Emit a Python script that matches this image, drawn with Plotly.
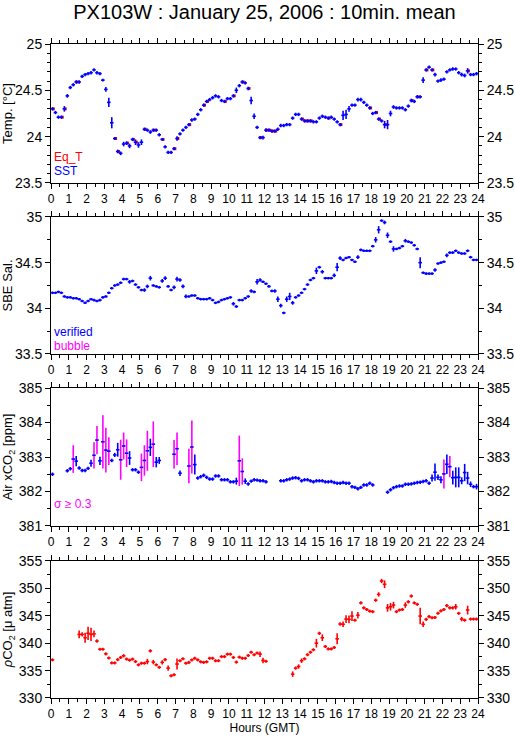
import plotly.graph_objects as go

# ---------------- data (10-minute means, index i -> hour (i+0.5)/6) ----------------
n_slots = 144
hours_ticks = list(range(0, 25))

sst = [
    24.30, 24.26, 24.21, 24.21, 24.30, 24.44, 24.53, 24.56, 24.59, 24.59,
    24.65, 24.67, 24.68, 24.69, 24.72, 24.69, 24.68, 24.61, 24.51, 24.37,
    24.15, 23.98, 23.84, 23.82, 23.92, 23.93, 23.90, 23.97, 23.94, 23.91,
    23.94, 24.08, 24.07, 24.05, 24.07, 24.07, 24.02, 23.97, 23.89, 23.83,
    23.83, 23.87, 23.98, 24.03, 24.07, 24.10, 24.13, 24.18, 24.19, 24.24,
    24.29, 24.34, 24.38, 24.40, 24.42, 24.44, 24.43, 24.39, 24.38, 24.41,
    24.41, 24.44, 24.50, 24.55, 24.59, 24.58, 24.52, 24.39, 24.22, 24.10,
    23.99, 23.99, 24.07, 24.07, 24.06, 24.06, 24.08, 24.12, 24.12, 24.13,
    24.13, 24.20, 24.24, 24.24, 24.19, 24.17, 24.17, 24.17, 24.16, 24.16,
    24.20, 24.22, 24.21, 24.20, 24.21, 24.19, 24.16, 24.13, 24.23, 24.24,
    24.30, 24.34, 24.34, 24.40, 24.40, 24.37, 24.34, 24.31, 24.25, 24.26,
    24.19, 24.17, 24.13, 24.13, 24.25, 24.32, 24.31, 24.31, 24.31, 24.29,
    24.33, 24.39, 24.38, 24.43, 24.43, 24.61, 24.72, 24.75, 24.72, 24.67,
    24.60, 24.61, 24.62, 24.70, 24.72, 24.73, 24.73, 24.69, 24.67, 24.66,
    24.71, 24.67, 24.67, 24.68]
sst_sd_default = 0.018
sst_sd = {4: 0.03, 5: 0.02, 17: 0.015, 18: 0.025, 19: 0.05, 20: 0.06, 21: 0.015,
          22: 0.02, 23: 0.02, 24: 0.025, 25: 0.02, 26: 0.025, 28: 0.03, 29: 0.03,
          30: 0.03, 33: 0.02, 37: 0.015, 42: 0.025, 62: 0.03, 67: 0.04, 68: 0.03,
          71: 0.02, 72: 0.02, 98: 0.05, 99: 0.05, 100: 0.03, 103: 0.02, 104: 0.02,
          112: 0.04, 113: 0.05, 114: 0.03, 115: 0.02, 121: 0.02, 125: 0.03,
          129: 0.02, 131: 0.02, 138: 0.02, 139: 0.02, 140: 0.03}

eqt_slot = [0, 3, 4, 8, 21, 22, 25, 27, 28, 31, 34, 37, 41, 42, 46, 51, 52, 58, 61,
            64, 66, 70, 72, 73, 74, 75, 84, 85, 86, 87, 93, 97, 107, 109, 110, 112,
            121, 123, 126, 128, 140]
eqt_val = [24.30, 24.21, 24.30, 24.59, 23.98, 23.84, 23.93, 23.97, 23.94, 24.08,
           24.07, 23.97, 23.87, 23.98, 24.13, 24.34, 24.38, 24.38, 24.44, 24.59,
           24.52, 23.99, 24.07, 24.07, 24.06, 24.06, 24.19, 24.17, 24.17, 24.17,
           24.20, 24.13, 24.31, 24.26, 24.19, 24.13, 24.39, 24.43, 24.72, 24.72,
           24.71]

sal = [
    34.17, 34.17, 34.18, 34.17, 34.13, 34.12, 34.12, 34.11, 34.11, 34.10,
    34.08, 34.06, 34.08, 34.10, 34.09, 34.08, 34.09, 34.12, 34.13, 34.17,
    34.22, 34.25, 34.26, 34.28, 34.32, 34.32, 34.29, 34.30, 34.26, 34.23,
    34.20, 34.20, 34.24, 34.33, 34.25, 34.24, 34.23, 34.30, 34.33, 34.24,
    34.20, 34.23, 34.32, 34.31, 34.24, 34.13, 34.13, 34.14, 34.14, 34.11,
    34.10, 34.10, 34.10, 34.11, 34.09, 34.06, 34.07, 34.09, 34.10, 34.11,
    34.12, 34.05, 34.02, 34.09, 34.09, 34.11, 34.13, 34.19, 34.18, 34.29,
    34.31, 34.29, 34.27, 34.24, 34.19, 34.19, 34.10, 34.03, 33.95, 34.10,
    34.13, 34.06, 34.12, 34.14, 34.17, 34.21, 34.26, 34.31, 34.33, 34.41,
    34.45, 34.40, 34.33, 34.33, 34.33, 34.36, 34.45, 34.55, 34.53, 34.55,
    34.56, 34.53, 34.51, 34.56, 34.64, 34.63, 34.63, 34.63, 34.68, 34.75,
    34.86, 34.96, 34.94, 34.80, 34.73, 34.65, 34.65, 34.66, 34.68, 34.74,
    34.73, 34.72, 34.69, 34.65, 34.50, 34.39, 34.38, 34.38, 34.38, 34.42,
    34.49, 34.50, 34.51, 34.58, 34.61, 34.61, 34.63, 34.61, 34.60, 34.60,
    34.63, 34.56, 34.53, 34.53]
sal_sd_default = 0.014
sal_sd = {24: 0.015, 26: 0.02, 31: 0.02, 32: 0.02, 33: 0.025, 37: 0.02, 38: 0.02,
          41: 0.02, 42: 0.025, 43: 0.02, 44: 0.02, 45: 0.02, 61: 0.02, 62: 0.015,
          67: 0.02, 69: 0.03, 70: 0.02, 74: 0.015, 75: 0.02, 76: 0.03, 77: 0.02,
          79: 0.03, 80: 0.04, 81: 0.02, 89: 0.035, 90: 0.015, 91: 0.02, 95: 0.02,
          96: 0.045, 97: 0.02, 103: 0.02, 109: 0.03, 110: 0.04, 112: 0.02,
          113: 0.03, 115: 0.03, 119: 0.02, 124: 0.06, 129: 0.02, 133: 0.02,
          140: 0.015}

N = None
xco2 = [
    382.50, N, N, N, N, 382.60, 382.66, 382.94, 382.88, 382.68,
    382.61, 382.61, 382.67, 382.82, 383.05, 383.49, 382.89, 383.44, 383.20, 383.17,
    382.90, 383.06, 383.21, 382.92, 383.32, 383.11, 382.97, 382.63, 382.63, 382.56,
    382.70, 382.90, 383.18, 383.28, 383.37, 382.85, 382.90, N, N, N,
    N, 383.08, 383.24, 382.53, N, N, 382.74, 383.29, 382.78, 382.39,
    382.43, 382.47, 382.41, 382.36, 382.36, 382.45, 382.45, 382.34, 382.34, 382.34,
    382.28, 382.28, 382.30, 382.89, 382.58, 382.30, 382.22, 382.30, 382.34, 382.33,
    382.31, 382.31, 382.28, N, N, N, N, 382.31, 382.31, 382.34,
    382.36, 382.39, 382.40, 382.38, 382.31, 382.34, 382.34, 382.31, 382.28, 382.31,
    382.31, 382.31, 382.28, 382.28, 382.29, 382.26, 382.24, 382.24, 382.26, 382.24,
    382.24, 382.14, 382.12, 382.08, 382.12, 382.19, 382.19, 382.24, 382.19, N,
    N, N, N, 381.98, 382.05, 382.11, 382.14, 382.16, 382.16, 382.21,
    382.21, 382.22, 382.24, 382.26, 382.27, 382.29, 382.31, 382.24, 382.39, 382.56,
    382.41, 382.34, 382.51, 382.79, 382.72, 382.40, 382.41, 382.41, 382.31, 382.55,
    382.39, 382.21, 382.14, 382.14]
xco2_sd_default = 0.05
xco2_sd = {7: 0.40, 8: 0.15, 13: 0.10, 14: 0.38, 15: 0.41, 16: 0.12, 17: 0.77,
           18: 0.65, 19: 0.40, 20: 0.05, 21: 0.06, 22: 0.20, 23: 0.58, 24: 0.39,
           25: 0.40, 26: 0.20, 30: 0.40, 31: 0.44, 32: 0.58, 33: 0.25, 34: 0.66,
           35: 0.15, 36: 0.10, 41: 0.41, 42: 0.47, 43: 0.08, 46: 0.50, 47: 0.77,
           48: 0.29, 62: 0.10, 63: 0.73, 64: 0.38, 65: 0.08, 128: 0.10, 129: 0.25,
           130: 0.08, 131: 0.10, 132: 0.42, 133: 0.28, 134: 0.31, 135: 0.20,
           136: 0.29, 137: 0.29, 138: 0.10, 139: 0.25, 140: 0.18, 141: 0.08,
           143: 0.08}
sigma_threshold = 0.3

pco2 = [
    336.96, N, N, N, N, N, N, N, N, 341.6,
    341.6, 341.0, 341.8, 341.6, 341.7, 340.4, 338.9, 338.9, 338.05, 337.3,
    336.4, 336.4, 337.0, 337.4, 337.7, 337.1, 336.9, 337.1, 336.65, 336.05,
    336.35, 336.35, 336.65, 338.6, 336.55, 336.05, 335.6, 336.5, 337.0, 335.45,
    334.05, 334.25, 336.2, 336.8, 337.15, 336.35, 336.5, 336.95, 337.25, 336.95,
    336.6, 336.5, 336.6, 337.25, 337.25, 336.8, 336.8, 337.55, 337.55, 338.0,
    338.0, 337.4, 336.55, 337.45, 337.25, 337.25, 337.75, 338.35, 337.9, 338.2,
    338.0, 336.85, 336.7, N, N, N, N, N, N, N,
    N, 334.35, 335.45, 335.75, 336.8, 337.15, 337.9, 338.35, 338.8, 340.0,
    341.8, 341.0, 339.4, 338.95, 338.95, 339.2, 340.8, 343.5, 343.45, 344.4,
    344.35, 344.95, 344.2, 345.1, 347.35, 346.45, 346.15, 345.85, 345.75, 347.85,
    348.9, 351.35, 350.75, 346.45, 346.65, 346.95, 345.75, 346.05, 346.15, 346.95,
    347.55, 348.6, 347.35, 347.1, 344.95, 343.45, 344.35, 344.85, 344.65, 344.7,
    345.45, 345.9, 346.15, 346.85, 346.45, 346.45, 346.65, 345.45, 344.4, 344.2,
    346.05, 344.4, 344.4, 344.4]
pco2_sd_default = 0.28
pco2_sd = {9: 0.7, 10: 0.4, 11: 0.9, 12: 1.2, 13: 1.2, 14: 0.6, 15: 0.3, 24: 0.3,
           32: 0.5, 33: 0.3, 34: 0.4, 37: 0.4, 39: 0.5, 42: 1.0, 70: 0.5, 71: 0.5,
           81: 0.5, 82: 0.3, 83: 0.4, 84: 0.4, 89: 0.8, 90: 0.3, 91: 0.6, 96: 1.0,
           97: 0.3, 98: 0.5, 99: 0.7, 100: 0.7, 101: 0.9, 103: 0.6, 104: 0.3,
           109: 0.3, 110: 0.4, 111: 0.4, 112: 0.7, 113: 0.7, 114: 0.7, 115: 0.6,
           119: 0.5, 120: 0.3, 121: 0.3, 124: 1.5, 125: 0.5, 136: 0.5, 138: 0.4,
           140: 0.8}

# ---------------- helpers ----------------
hours = [(i + 0.5) / 6.0 for i in range(n_slots)]
HALF_SLOT = 0.1  # half-width of the 10-min bar, in hours

BLUE = "#0000FF"
RED = "#FF0000"
MAG = "#FF00FF"
FONT = "Liberation Sans, Arial, sans-serif"


def sd_list(default, overrides):
    return [overrides.get(i, default) for i in range(n_slots)]


def cross(x, y, sd, color, xa, ya, thick=1.6):
    return go.Scatter(
        x=x, y=y, mode="markers", xaxis=xa, yaxis=ya,
        marker=dict(size=0.1, color=color, opacity=0),
        error_y=dict(type="data", array=sd, symmetric=True, color=color,
                     thickness=thick, width=0),
        error_x=dict(type="constant", value=HALF_SLOT, color=color,
                     thickness=thick, width=0),
        showlegend=False, hoverinfo="skip")


fig = go.Figure()

# Panel 1: temperature (Eq_T red behind, SST blue on top)
eqt_hours = [(i + 0.5) / 6.0 + 0.05 for i in eqt_slot]
fig.add_trace(go.Scatter(
    x=eqt_hours, y=eqt_val, mode="markers", xaxis="x", yaxis="y",
    marker=dict(size=0.1, opacity=0),
    error_x=dict(type="constant", value=0.08, color=RED, thickness=3, width=0),
    showlegend=False, hoverinfo="skip"))
fig.add_trace(cross(hours, sst, sd_list(sst_sd_default, sst_sd), BLUE, "x", "y"))

# Panel 2: salinity
fig.add_trace(cross(hours, sal, sd_list(sal_sd_default, sal_sd), BLUE, "x2", "y2"))

# Panel 3: air xCO2 (vertical bars magenta when sigma >= threshold)
xsd = sd_list(xco2_sd_default, xco2_sd)
big_sd = [s if s >= sigma_threshold else 0 for s in xsd]
small_sd = [s if s < sigma_threshold else 0 for s in xsd]
fig.add_trace(go.Scatter(
    x=hours, y=xco2, mode="markers", xaxis="x3", yaxis="y3",
    marker=dict(size=0.1, opacity=0),
    error_y=dict(type="data", array=big_sd, symmetric=True, color=MAG,
                 thickness=1.6, width=0),
    showlegend=False, hoverinfo="skip"))
fig.add_trace(cross(hours, xco2, small_sd, BLUE, "x3", "y3"))

# Panel 4: pCO2
fig.add_trace(cross(hours, pco2, sd_list(pco2_sd_default, pco2_sd), RED, "x4", "y4"))

# dummy traces so the mirrored right (y5..y8) and top (x5..x8) axes are drawn
for p in range(4):
    xid = "x" if p == 0 else f"x{p + 1}"
    yid = "y" if p == 0 else f"y{p + 1}"
    fig.add_trace(go.Scatter(x=[None], y=[None], xaxis=xid, yaxis=f"y{p + 5}",
                             showlegend=False, hoverinfo="skip"))
    fig.add_trace(go.Scatter(x=[None], y=[None], xaxis=f"x{p + 5}", yaxis=yid,
                             showlegend=False, hoverinfo="skip"))

# ---------------- layout ----------------
domains = [(0.7875, 1.0), (0.526, 0.7355), (0.263, 0.474), (0.0, 0.2095)]
yranges = [(23.5, 25), (33.5, 35), (381, 385), (330, 355)]
ydticks = [0.5, 0.5, 1, 5]
yminor = [0.1, 0.25, 0.5, 2.5]
ytitles = ["Temp. [°C]", "SBE Sal.", "Air xCO<sub>2</sub> [ppm]",
           "<i>ρ</i>CO<sub>2</sub> [μ atm]"]

layout = dict(
    width=515, height=739,
    margin=dict(l=51, r=37, t=44, b=41, autoexpand=False),
    paper_bgcolor="white", plot_bgcolor="white",
    font=dict(family=FONT, color="black", size=12),
    title=dict(text="PX103W : January 25, 2006 : 10min. mean",
               font=dict(size=20, family=FONT, color="black"),
               x=0.5, xref="paper", xanchor="center",
               y=0.984, yref="container", yanchor="middle"),
    showlegend=False,
)

for p in range(4):
    xs = "xaxis" if p == 0 else f"xaxis{p + 1}"
    ys = "yaxis" if p == 0 else f"yaxis{p + 1}"
    yid = "y" if p == 0 else f"y{p + 1}"
    xid = "x" if p == 0 else f"x{p + 1}"
    xaxis_common = dict(
        domain=[0, 1], range=[0, 24], tickmode="array",
        tickvals=hours_ticks, ticktext=[str(h) for h in hours_ticks],
        ticks="outside", ticklen=5, tickwidth=1, tickcolor="black",
        showline=True, linecolor="black", linewidth=1,
        showgrid=False, zeroline=False, tickfont=dict(size=12), automargin=False,
        minor=dict(dtick=0.5, tick0=0, ticks="outside", ticklen=3,
                   tickcolor="black", showgrid=False),
    )
    layout[xs] = dict(xaxis_common, anchor=yid)
    layout[f"xaxis{p + 5}"] = dict(xaxis_common, anchor=yid, overlaying=xid,
                                   side="top", showticklabels=False)
    if p == 3:
        layout[xs]["title"] = dict(text="Hours (GMT)", font=dict(size=12),
                                   standoff=0)
    yaxis_common = dict(
        domain=list(domains[p]), range=list(yranges[p]), dtick=ydticks[p],
        tick0=yranges[p][0], ticks="outside", ticklen=5, tickwidth=1,
        tickcolor="black", showline=True, linecolor="black", linewidth=1,
        showgrid=False, zeroline=False, tickfont=dict(size=14), automargin=False,
        minor=dict(dtick=yminor[p], tick0=yranges[p][0], ticks="outside",
                   ticklen=3, tickcolor="black", showgrid=False),
    )
    layout[ys] = dict(yaxis_common, anchor=xid,
                      title=dict(text=ytitles[p], font=dict(size=13), standoff=4))
    layout[f"yaxis{p + 5}"] = dict(yaxis_common, anchor=xid, overlaying=yid,
                                   side="right")

fig.update_layout(**layout)

# in-panel legend labels
ann = [
    dict(text="Eq_T", x=0.08, y=23.785, xref="x", yref="y", font=dict(color=RED)),
    dict(text="SST", x=0.08, y=23.625, xref="x", yref="y", font=dict(color=BLUE)),
    dict(text="verified", x=0.08, y=33.74, xref="x2", yref="y2", font=dict(color=BLUE)),
    dict(text="bubble", x=0.08, y=33.59, xref="x2", yref="y2", font=dict(color=MAG)),
    dict(text="σ ≥ 0.3", x=0.08, y=381.64, xref="x3", yref="y3", font=dict(color=MAG)),
]
for a in ann:
    a.update(showarrow=False, xanchor="left", yanchor="middle")
    a["font"].update(size=12, family=FONT)
fig.update_layout(annotations=ann)

# remove the default page margin so the 515x739 figure fills the window exactly
fig.write_html("out.html",
               config={"displayModeBar": False},
               post_script="document.body.style.margin='0';"
                           "document.body.style.overflow='hidden';")
